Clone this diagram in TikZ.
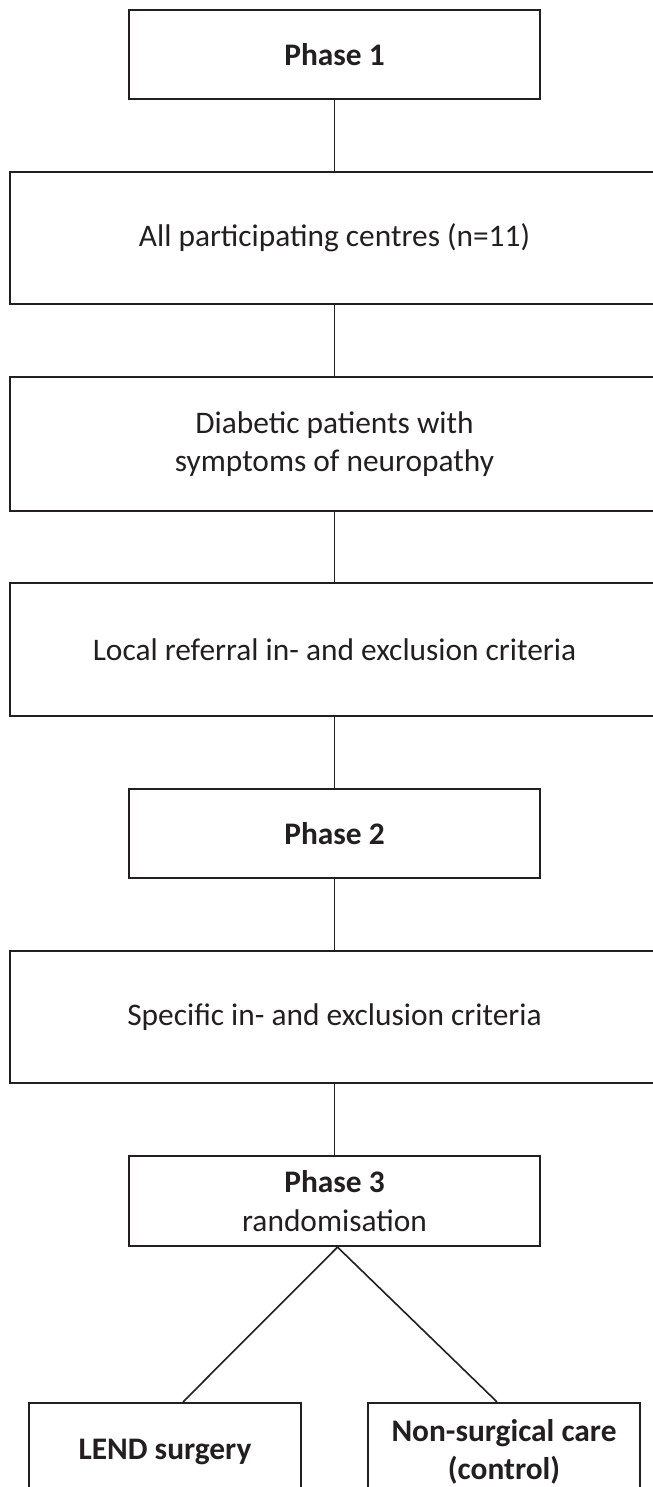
\documentclass[tikz,border=0pt]{standalone}
\usepackage{fontspec}
\setmainfont{Carlito}
\definecolor{ink}{HTML}{231F20}
\begin{document}
\begin{tikzpicture}[x=1bp,y=-1bp,
  box/.style={draw=ink, line width=2.2bp, text=ink, inner sep=0pt, align=center,
    font=\fontsize{31.5}{38.5}\selectfont},
  narrow/.style={box, minimum width=411bp, minimum height=89bp},
  wide/.style={box, minimum width=649bp, minimum height=132bp},
  small/.style={box, minimum width=272bp, minimum height=98bp},
  conn/.style={draw=ink, line width=1.6bp}]
\useasboundingbox (0,0) rectangle (653,1487);
\clip (0,0) rectangle (653,1487);
\node[narrow] (p1) at (334.5,54.5) {\textbf{Phase 1}};
\node[wide] (c) at (334.5,238) {All participating centres (n=11)};
\node[wide, minimum height=134bp] (d) at (334.5,444) {Diabetic patients with\\symptoms of neuropathy};
\node[wide, minimum height=133bp] (l) at (334.5,649.5) {Local referral in- and exclusion criteria};
\node[narrow] (p2) at (334.5,833.5) {\textbf{Phase 2}};
\node[wide] (s) at (334.5,1017) {Specific in- and exclusion criteria};
\node[narrow, minimum height=90bp] (p3) at (334.5,1201) {\textbf{Phase 3}\\randomisation};
\node[small] (lend) at (165,1452) {\textbf{LEND surgery}};
\node[small] (ns) at (504,1452) {\textbf{Non-surgical care}\\\textbf{(control)}};
\draw[conn] (p1) -- (c);
\draw[conn] (c) -- (d);
\draw[conn] (d) -- (l);
\draw[conn] (l) -- (p2);
\draw[conn] (p2) -- (s);
\draw[conn] (s) -- (p3);
\draw[conn] ([xshift=3bp]p3.south) -- ([xshift=18bp]lend.north);
\draw[conn] ([xshift=3bp]p3.south) -- ([xshift=-7bp]ns.north);
\end{tikzpicture}
\end{document}
